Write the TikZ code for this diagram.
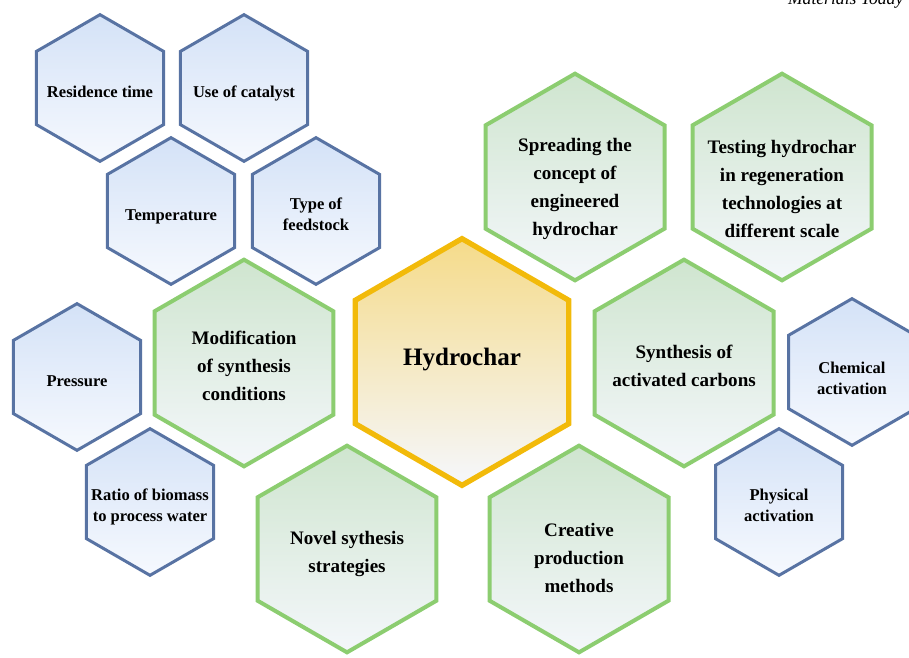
\documentclass[tikz,border=0pt]{standalone}
\usepackage{fontspec}
\setmainfont{Liberation Serif}
\usetikzlibrary{shapes.geometric}
\definecolor{blueline}{RGB}{88,115,163}
\definecolor{bluetop}{RGB}{212,226,247}
\definecolor{bluebot}{RGB}{246,249,254}
\definecolor{greenline}{RGB}{140,205,112}
\definecolor{greentop}{RGB}{207,229,207}
\definecolor{greenbot}{RGB}{244,247,251}
\definecolor{goldline}{RGB}{242,186,10}
\definecolor{goldtop}{RGB}{245,219,138}
\definecolor{goldbot}{RGB}{245,247,252}
% label of zero size, so the hexagon keeps its minimum size
\newcommand\celltext[2][-0.55em]{\smash{\makebox[0pt]{\raisebox{#1}{\begin{tabular}[c]{@{}c@{}}#2\end{tabular}}}}}
\tikzset{
  hex/.style={regular polygon, regular polygon sides=6, shape border rotate=30,
    inner sep=0pt, font=\bfseries},
  smallhex/.style={hex, minimum size=110pt, draw=blueline, line width=2.25pt,
    top color=bluetop, bottom color=bluebot, font=\bfseries\fontsize{12.4}{15.8}\selectfont},
  bighex/.style={hex, minimum size=155pt, draw=greenline, line width=3pt,
    top color=greentop, bottom color=greenbot, font=\bfseries\fontsize{14.3}{21}\selectfont},
  corehex/.style={hex, minimum size=185pt, draw=goldline, line width=4pt,
    top color=goldtop, bottom color=goldbot, font=\bfseries\fontsize{18.8}{22}\selectfont}
}
\begin{document}
\begin{tikzpicture}[x=0.75pt, y=-0.75pt]
  \useasboundingbox (0,0) rectangle (909,657);
  \node[anchor=base east, font=\itshape\fontsize{13.2}{15}\selectfont] (journal) at (908,4) {Materials Today};

  % parameters of the process
  \node[smallhex] (restime) at (100,88) {\celltext{Residence time}};
  \node[smallhex] (catalyst) at (244,88) {\celltext{Use of catalyst}};
  \node[smallhex] (temp) at (171,211) {\celltext{Temperature}};
  \node[smallhex] (feed) at (316,211) {\celltext{Type of\\feedstock}};
  \node[smallhex] (press) at (77,377) {\celltext{Pressure}};
  \node[smallhex] (ratio) at (150,502) {\celltext{Ratio of biomass\\to process water}};
  \node[smallhex] (chem) at (852,372) {\celltext[-0.7em]{Chemical\\activation}};
  \node[smallhex] (phys) at (779,502) {\celltext{Physical\\activation}};

  % research directions
  \node[bighex] (modif) at (244,363) {\celltext[-0.45em]{Modification\\of synthesis\\conditions}};
  \node[bighex] (spread) at (575,177) {\celltext[-0.8em]{Spreading the\\concept of\\engineered\\hydrochar}};
  \node[bighex] (testing) at (782,177) {\celltext[-0.95em]{Testing hydrochar\\in regeneration\\technologies at\\different scale}};
  \node[bighex] (actcarb) at (684,363) {\celltext[-0.45em]{Synthesis of\\activated carbons}};
  \node[bighex] (novel) at (347,549) {\celltext[-0.45em]{Novel sythesis\\strategies}};
  \node[bighex] (creative) at (579,549) {\celltext[-0.75em]{Creative\\production\\methods}};

  \node[corehex] (hydro) at (462,362) {\celltext[-0.15em]{Hydrochar}};
\end{tikzpicture}
\end{document}
